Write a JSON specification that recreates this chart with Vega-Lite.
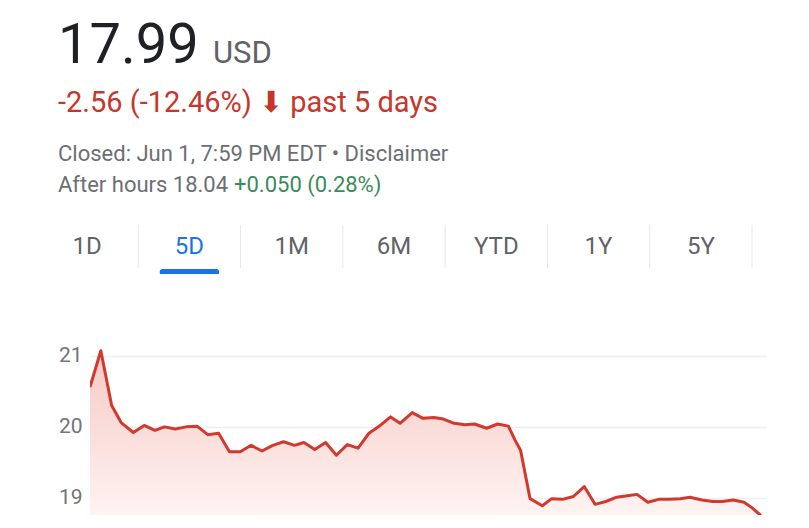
{
  "$schema": "https://vega.github.io/schema/vega-lite/v6.json",
  "background": "white",
  "padding": {"left": 36, "top": 0, "right": 0, "bottom": 0},
  "autosize": {"type": "pad"},
  "spacing": 0,
  "bounds": "full",
  "config": {"view": {"stroke": null}, "font": "Roboto"},
  "datasets": {
    "tabs": [
      {"tab": "1D"}, {"tab": "5D"}, {"tab": "1M"}, {"tab": "6M"}, {"tab": "YTD"}, {"tab": "1Y"}, {"tab": "5Y"}
    ],
    "quote": [
      {"section": "quote", "line": "price", "part": "value", "text": "17.99"},
      {"section": "quote", "line": "price", "part": "currency", "text": "USD"},
      {"section": "quote", "line": "change", "part": "change", "text": "-2.56 (-12.46%) ⬇ past 5 days"},
      {"section": "quote", "line": "closed", "part": "status", "text": "Closed: Jun 1, 7:59 PM EDT • Disclaimer\nAfter hours 18.04"},
      {"section": "quote", "line": "closed", "part": "afterchange", "text": "\n+0.050 (0.28%)"}
    ],
    "prices": [
      {"day": 0.00, "price": 20.56}, {"day": 0.08, "price": 21.07}, {"day": 0.16, "price": 20.30},
      {"day": 0.23, "price": 20.06}, {"day": 0.32, "price": 19.92}, {"day": 0.40, "price": 20.02},
      {"day": 0.48, "price": 19.95}, {"day": 0.55, "price": 20.00}, {"day": 0.63, "price": 19.97},
      {"day": 0.71, "price": 20.00}, {"day": 0.79, "price": 20.01}, {"day": 0.87, "price": 19.89},
      {"day": 0.95, "price": 19.91}, {"day": 1.03, "price": 19.65}, {"day": 1.11, "price": 19.65},
      {"day": 1.19, "price": 19.74}, {"day": 1.27, "price": 19.66}, {"day": 1.35, "price": 19.74},
      {"day": 1.43, "price": 19.79}, {"day": 1.51, "price": 19.74}, {"day": 1.58, "price": 19.78},
      {"day": 1.66, "price": 19.68}, {"day": 1.74, "price": 19.78}, {"day": 1.82, "price": 19.60},
      {"day": 1.90, "price": 19.75}, {"day": 1.98, "price": 19.70}, {"day": 2.06, "price": 19.91},
      {"day": 2.13, "price": 20.00}, {"day": 2.22, "price": 20.14}, {"day": 2.29, "price": 20.05},
      {"day": 2.38, "price": 20.20}, {"day": 2.46, "price": 20.12}, {"day": 2.54, "price": 20.13},
      {"day": 2.61, "price": 20.11}, {"day": 2.69, "price": 20.05}, {"day": 2.77, "price": 20.03},
      {"day": 2.84, "price": 20.04}, {"day": 2.93, "price": 19.98}, {"day": 3.01, "price": 20.04},
      {"day": 3.09, "price": 20.01}, {"day": 3.14, "price": 19.81}, {"day": 3.18, "price": 19.67},
      {"day": 3.25, "price": 18.99}, {"day": 3.34, "price": 18.89}, {"day": 3.41, "price": 18.99},
      {"day": 3.49, "price": 18.98}, {"day": 3.57, "price": 19.02}, {"day": 3.65, "price": 19.16},
      {"day": 3.73, "price": 18.91}, {"day": 3.81, "price": 18.95}, {"day": 3.89, "price": 19.01},
      {"day": 3.97, "price": 19.03}, {"day": 4.04, "price": 19.05}, {"day": 4.12, "price": 18.94},
      {"day": 4.20, "price": 18.98}, {"day": 4.28, "price": 18.98}, {"day": 4.36, "price": 18.99},
      {"day": 4.43, "price": 19.01}, {"day": 4.52, "price": 18.97}, {"day": 4.60, "price": 18.95},
      {"day": 4.67, "price": 18.95}, {"day": 4.75, "price": 18.97}, {"day": 4.83, "price": 18.94},
      {"day": 4.89, "price": 18.86}, {"day": 4.95, "price": 18.76}, {"day": 5.00, "price": 18.55}
    ]
  },
  "vconcat": [
    {
      "width": 677,
      "height": 224,
      "data": {"name": "quote"},
      "encoding": {
        "x": {"field": "section", "type": "nominal", "scale": {"type": "band", "paddingInner": 0, "paddingOuter": 0}, "bandPosition": 0, "axis": null},
        "y": {"field": "line", "type": "nominal", "scale": {"type": "point", "domain": ["price", "change", "closed"], "range": [63, 160.5], "padding": 0}, "axis": null},
        "text": {"field": "text", "type": "nominal"}
      },
      "layer": [
        {"transform": [{"filter": "datum.part === 'value'"}],
         "mark": {"type": "text", "align": "left", "baseline": "alphabetic", "dx": -32, "font": "Roboto", "fontSize": 56, "color": "#202124"}},
        {"transform": [{"filter": "datum.part === 'currency'"}],
         "mark": {"type": "text", "align": "left", "baseline": "alphabetic", "dx": 123, "font": "Roboto", "fontSize": 31, "color": "#5f6368"}},
        {"transform": [{"filter": "datum.part === 'change'"}],
         "mark": {"type": "text", "align": "left", "baseline": "alphabetic", "dx": -32, "font": "Roboto", "fontSize": 29, "color": "#c5372c"}},
        {"transform": [{"filter": "datum.part === 'status'"}],
         "mark": {"type": "text", "align": "left", "baseline": "alphabetic", "dx": -32, "font": "Roboto", "fontSize": 22, "color": "#6b6f74", "lineBreak": "\n", "lineHeight": 31}},
        {"transform": [{"filter": "datum.part === 'afterchange'"}],
         "mark": {"type": "text", "align": "left", "baseline": "alphabetic", "dx": 144, "font": "Roboto", "fontSize": 22, "color": "#3a8a5c", "lineBreak": "\n", "lineHeight": 31}}
      ]
    },
    {
      "width": 677,
      "height": 43,
      "data": {"name": "tabs"},
      "encoding": {
        "x": {"field": "tab", "type": "nominal", "sort": null, "scale": {"type": "band", "range": [-54, 662], "paddingInner": 0, "paddingOuter": 0}, "axis": null}
      },
      "layer": [
        {"mark": {"type": "rule", "color": "#e6e8eb", "strokeWidth": 1},
         "encoding": {"x": {"field": "tab", "type": "nominal", "sort": null, "bandPosition": 1}}},
        {"mark": {"type": "text", "font": "Roboto", "fontSize": 24, "baseline": "middle"},
         "encoding": {
           "text": {"field": "tab", "type": "nominal"},
           "color": {"condition": {"test": "datum.tab === '5D'", "value": "#1a73e8"}, "value": "#5f6368"}
         }}
      ]
    },
    {
      "width": 677,
      "height": 5,
      "data": {"name": "tabs"},
      "transform": [{"filter": "datum.tab === '5D'"}],
      "mark": {"type": "bar", "color": "#1a73e8", "width": {"band": 0.58}, "cornerRadiusTopLeft": 3, "cornerRadiusTopRight": 3},
      "encoding": {
        "x": {"field": "tab", "type": "nominal", "scale": {"type": "band", "domain": ["1D", "5D", "1M", "6M", "YTD", "1Y", "5Y"], "range": [-54, 662], "paddingInner": 0, "paddingOuter": 0}, "axis": null}
      }
    },
    {
      "width": 677,
      "height": 241,
      "data": {"name": "prices"},
      "encoding": {
        "x": {"field": "day", "type": "quantitative", "scale": {"domain": [0, 5], "nice": false}, "axis": null},
        "y": {"field": "price", "type": "quantitative",
              "scale": {"domain": [18.76, 22.15], "nice": false, "zero": false},
              "axis": {"values": [19, 20, 21], "title": null, "domain": false, "ticks": false, "labelPadding": 8, "minExtent": 54,
                       "labelFont": "Roboto", "labelFontSize": 21, "labelColor": "#70757a", "gridColor": "#efefef", "gridWidth": 1.5}}
      },
      "layer": [
        {"mark": {"type": "area", "clip": true,
                  "color": {"gradient": "linear", "x1": 0, "y1": 0, "x2": 0, "y2": 1,
                            "stops": [{"offset": 0, "color": "#f6c9c4"}, {"offset": 0.57, "color": "#fbe3e0"}, {"offset": 1, "color": "#fff8f7"}]}},
         "encoding": {"y2": {"datum": 18.76}}},
        {"mark": {"type": "line", "clip": true, "color": "#d2392e", "strokeWidth": 3, "strokeJoin": "round"}}
      ]
    }
  ]
}
